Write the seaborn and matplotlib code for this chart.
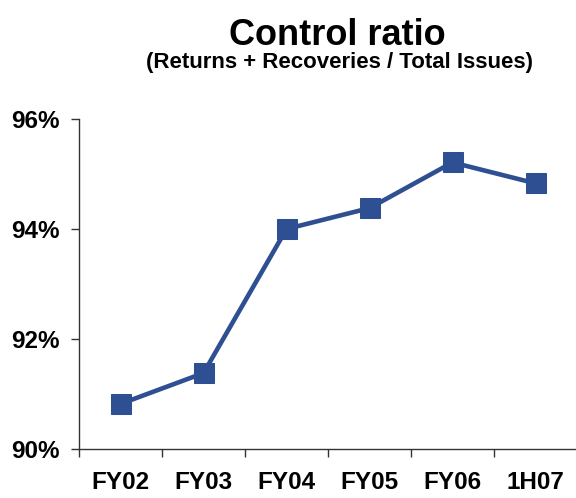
import matplotlib
matplotlib.use("Agg")
import matplotlib.pyplot as plt
import seaborn as sns
import pandas as pd
import numpy as np

categories = ["FY02", "FY03", "FY04", "FY05", "FY06", "1H07"]
ratio = [90.82, 91.38, 94.0, 94.38, 95.21, 94.83]
ytick_vals = [90, 92, 94, 96]

sns.set_style("white")
plt.rcParams['font.family'] = ['Liberation Sans', 'DejaVu Sans']
plt.rcParams['text.color'] = 'black'
plt.rcParams['xtick.color'] = 'black'
plt.rcParams['ytick.color'] = 'black'

df = pd.DataFrame({"period": categories, "ratio": ratio})

fig = plt.figure(figsize=(5.76, 4.98), dpi=100)
ax = fig.add_axes([79/576, 1-449/498, 498/576, 330/498])

color = "#2E5092"
sns.lineplot(data=df, x="period", y="ratio", ax=ax, color=color, linewidth=3.3,
             marker="s", markersize=14, markeredgecolor=color, sort=False)

ax.set_xlim(-0.5, len(categories) - 0.5)
ax.set_ylim(90, 96)
ax.set_yticks(ytick_vals)
ax.set_yticklabels([f"{v}%" for v in ytick_vals], fontsize=17.5, fontweight="bold", color="black")
ax.set_xticks(range(len(categories)))
ax.set_xticklabels(categories, fontsize=17.5, fontweight="bold", color="black")
ax.set_xticks(np.arange(-0.5, len(categories) - 0.5, 1.0), minor=True)
ax.tick_params(axis="x", which="major", length=0, pad=16)
ax.tick_params(axis="x", which="minor", length=6, width=1, color="#333333", direction="out", bottom=True)
ax.tick_params(axis="y", length=6, width=1, color="#333333", direction="out", left=True, pad=8)
ax.set_xlabel("")
ax.set_ylabel("")
for s in ["top", "right"]:
    ax.spines[s].set_visible(False)
for s in ["left", "bottom"]:
    ax.spines[s].set_color("#333333")
    ax.spines[s].set_linewidth(1)

fig.text(337/576, 1-45/498, "Control ratio", ha="center", va="baseline", fontsize=26, fontweight="bold", color="black")
fig.text(339/576, 1-68/498, "(Returns + Recoveries / Total Issues)", ha="center", va="baseline", fontsize=16, fontweight="bold", color="black")

fig.savefig("out.png", dpi=100)
